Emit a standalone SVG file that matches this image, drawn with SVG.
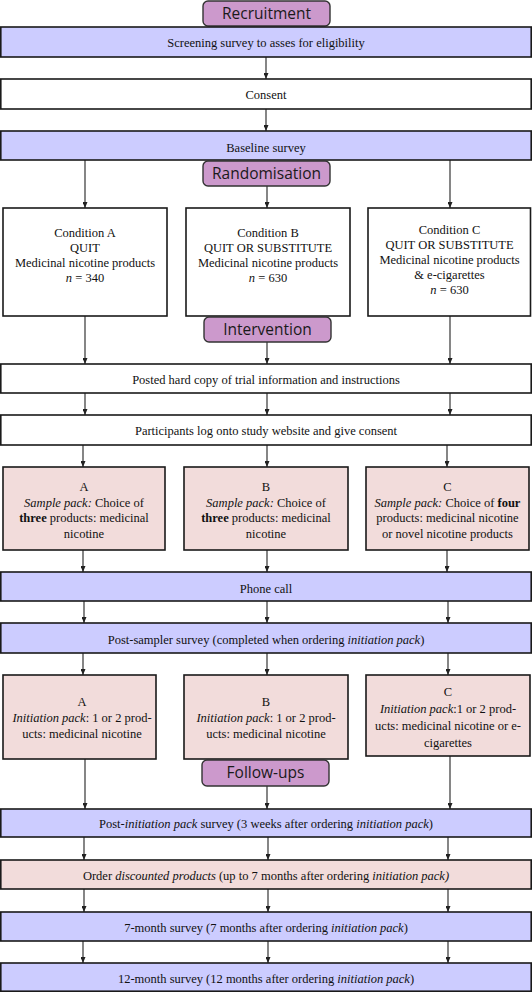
<svg xmlns="http://www.w3.org/2000/svg" width="532" height="992" viewBox="0 0 532 992">
<defs>
<marker id="ah" markerUnits="userSpaceOnUse" markerWidth="6" markerHeight="5" refX="6" refY="2.5" orient="auto">
<path d="M0,0 L6,2.5 L0,5 z" fill="#222"/>
</marker>
<style>
.blue{fill:#ccccff;stroke:#1a1a1a;stroke-width:1.6}
.white{fill:#ffffff;stroke:#1a1a1a;stroke-width:1.6}
.pink{fill:#f2dcdb;stroke:#1a1a1a;stroke-width:1.6}
.lab{fill:#cc99cc;stroke:#333;stroke-width:1.4}
.t{font-family:"Liberation Serif","Times New Roman",serif;font-size:12.5px;fill:#111;text-anchor:middle}
.lt{font-family:"Open Sans","Noto Sans",sans-serif;font-size:15.5px;fill:#1a1a1a;text-anchor:middle}
.i{font-style:italic}
.b{font-weight:bold}
.c line{stroke:#222;stroke-width:1.1;marker-end:url(#ah)}
</style>
</defs>

<g class="c" id="connectors">
<line x1="266" y1="57" x2="266" y2="79"/>
<line x1="266" y1="109" x2="266" y2="131"/>
<line x1="85" y1="160" x2="85" y2="208"/>
<line x1="267" y1="186" x2="267" y2="208"/>
<line x1="450" y1="160" x2="450" y2="208"/>
<line x1="85" y1="316" x2="85" y2="364"/>
<line x1="267" y1="342" x2="267" y2="364"/>
<line x1="450" y1="316" x2="450" y2="364"/>
<line x1="85" y1="393" x2="85" y2="415"/>
<line x1="267" y1="393" x2="267" y2="415"/>
<line x1="450" y1="393" x2="450" y2="415"/>
<line x1="83" y1="445" x2="83" y2="467"/>
<line x1="267" y1="445" x2="267" y2="467"/>
<line x1="447" y1="445" x2="447" y2="467"/>
<line x1="83" y1="550" x2="83" y2="572"/>
<line x1="267" y1="550" x2="267" y2="572"/>
<line x1="447" y1="550" x2="447" y2="572"/>
<line x1="84" y1="601" x2="84" y2="623"/>
<line x1="267" y1="601" x2="267" y2="623"/>
<line x1="448" y1="601" x2="448" y2="623"/>
<line x1="83" y1="653" x2="83" y2="675"/>
<line x1="267" y1="653" x2="267" y2="675"/>
<line x1="448" y1="653" x2="448" y2="675"/>
<line x1="85" y1="759" x2="85" y2="809"/>
<line x1="267" y1="786" x2="267" y2="809"/>
<line x1="450" y1="756" x2="450" y2="809"/>
<line x1="84" y1="837" x2="84" y2="860"/>
<line x1="268" y1="837" x2="268" y2="860"/>
<line x1="448" y1="837" x2="448" y2="860"/>
<line x1="84" y1="889" x2="84" y2="912"/>
<line x1="268" y1="889" x2="268" y2="912"/>
<line x1="448" y1="889" x2="448" y2="912"/>
<line x1="83" y1="941" x2="83" y2="963"/>
<line x1="268" y1="941" x2="268" y2="963"/>
<line x1="448" y1="941" x2="448" y2="963"/>
</g>

<g id="recruitment">
<rect class="lab" x="203" y="1" width="127" height="25" rx="5"/>
<text class="lt" x="266.5" y="19">Recruitment</text>
</g>
<g id="screening">
<rect class="blue" x="0.8" y="27" width="530.4" height="30"/>
<text class="t" x="266" y="46.5">Screening survey to asses for eligibility</text>
</g>
<g id="consent">
<rect class="white" x="0.8" y="79" width="530.4" height="30"/>
<text class="t" x="266" y="99">Consent</text>
</g>
<g id="baseline">
<rect class="blue" x="0.8" y="131" width="530.4" height="29"/>
<text class="t" x="266" y="152">Baseline survey</text>
</g>
<g id="randomisation">
<rect class="lab" x="203" y="161" width="127" height="25" rx="5"/>
<text class="lt" x="266.5" y="178.5">Randomisation</text>
</g>

<g id="condA">
<rect class="white" x="3" y="208" width="164" height="108"/>
<text class="t" x="85" y="237">Condition A</text>
<text class="t" x="85" y="252">QUIT</text>
<text class="t" x="85" y="267">Medicinal nicotine products</text>
<text class="t" x="85" y="282"><tspan class="i">n</tspan> = 340</text>
</g>
<g id="condB">
<rect class="white" x="186" y="208" width="164" height="108"/>
<text class="t" x="268" y="237">Condition B</text>
<text class="t" x="268" y="252">QUIT OR SUBSTITUTE</text>
<text class="t" x="268" y="267">Medicinal nicotine products</text>
<text class="t" x="268" y="282"><tspan class="i">n</tspan> = 630</text>
</g>
<g id="condC">
<rect class="white" x="368" y="208" width="162.5" height="108"/>
<text class="t" x="449.5" y="234">Condition C</text>
<text class="t" x="449.5" y="249">QUIT OR SUBSTITUTE</text>
<text class="t" x="449.5" y="264">Medicinal nicotine products</text>
<text class="t" x="449.5" y="279">&amp; e-cigarettes</text>
<text class="t" x="449.5" y="294"><tspan class="i">n</tspan> = 630</text>
</g>

<g id="intervention">
<rect class="lab" x="204" y="317" width="127" height="25" rx="5"/>
<text class="lt" x="267.5" y="335">Intervention</text>
</g>
<g id="posted">
<rect class="white" x="0.8" y="364" width="530.4" height="29"/>
<text class="t" x="266" y="384">Posted hard copy of trial information and instructions</text>
</g>
<g id="participants">
<rect class="white" x="0.8" y="415" width="530.4" height="30"/>
<text class="t" x="266" y="435">Participants log onto study website and give consent</text>
</g>

<g id="sampleA">
<rect class="pink" x="3" y="467" width="162" height="83"/>
<text class="t" x="84" y="491">A</text>
<text class="t" x="84" y="507"><tspan class="i">Sample pack:</tspan> Choice of</text>
<text class="t" x="84" y="522"><tspan class="b">three</tspan> products: medicinal</text>
<text class="t" x="84" y="538">nicotine</text>
</g>
<g id="sampleB">
<rect class="pink" x="184" y="467" width="164" height="83"/>
<text class="t" x="266" y="491">B</text>
<text class="t" x="266" y="507"><tspan class="i">Sample pack:</tspan> Choice of</text>
<text class="t" x="266" y="522"><tspan class="b">three</tspan> products: medicinal</text>
<text class="t" x="266" y="538">nicotine</text>
</g>
<g id="sampleC">
<rect class="pink" x="366" y="467" width="163" height="83"/>
<text class="t" x="447.5" y="491">C</text>
<text class="t" x="447.5" y="507"><tspan class="i">Sample pack:</tspan> Choice of <tspan class="b">four</tspan></text>
<text class="t" x="447.5" y="522">products: medicinal nicotine</text>
<text class="t" x="447.5" y="538">or novel nicotine products</text>
</g>

<g id="phone">
<rect class="blue" x="0.8" y="572" width="530.4" height="29"/>
<text class="t" x="266" y="593">Phone call</text>
</g>
<g id="postsampler">
<rect class="blue" x="0.8" y="623" width="530.4" height="30"/>
<text class="t" x="266" y="644"><tspan>Post-sampler survey (completed when ordering </tspan><tspan class="i">initiation pack</tspan>)</text>
</g>

<g id="initA">
<rect class="pink" x="3" y="675" width="153" height="84"/>
<text class="t" x="82" y="706">A</text>
<text class="t" x="82" y="722"><tspan class="i">Initiation pack</tspan>: 1 or 2 prod-</text>
<text class="t" x="82" y="738">ucts: medicinal nicotine</text>
</g>
<g id="initB">
<rect class="pink" x="184" y="675" width="164" height="84"/>
<text class="t" x="266" y="706">B</text>
<text class="t" x="266" y="722"><tspan class="i">Initiation pack</tspan>: 1 or 2 prod-</text>
<text class="t" x="266" y="738">ucts: medicinal nicotine</text>
</g>
<g id="initC">
<rect class="pink" x="366" y="675" width="164" height="81"/>
<text class="t" x="448" y="696">C</text>
<text class="t" x="448" y="713"><tspan class="i">Initiation pack</tspan>:1 or 2 prod-</text>
<text class="t" x="448" y="730">ucts: medicinal nicotine or e-</text>
<text class="t" x="448" y="747">cigarettes</text>
</g>

<g id="followups">
<rect class="lab" x="202" y="760" width="127" height="26" rx="5"/>
<text class="lt" x="265.5" y="778">Follow-ups</text>
</g>
<g id="postinit">
<rect class="blue" x="0.8" y="809" width="530.4" height="28"/>
<text class="t" x="266" y="828">Post-<tspan class="i">initiation pack</tspan> survey (3 weeks after ordering <tspan class="i">initiation pack</tspan>)</text>
</g>
<g id="order">
<rect class="pink" x="0.8" y="860" width="530.4" height="29"/>
<text class="t" x="266" y="880">Order <tspan class="i">discounted products</tspan> (up to 7 months after ordering <tspan class="i">initiation pack)</tspan></text>
</g>
<g id="month7">
<rect class="blue" x="0.8" y="912" width="530.4" height="29"/>
<text class="t" x="266" y="932">7-month survey (7 months after ordering <tspan class="i">initiation pack</tspan>)</text>
</g>
<g id="month12">
<rect class="blue" x="0.8" y="963" width="530.4" height="28.2"/>
<text class="t" x="266" y="983">12-month survey (12 months after ordering <tspan class="i">initiation pack</tspan>)</text>
</g>
</svg>
